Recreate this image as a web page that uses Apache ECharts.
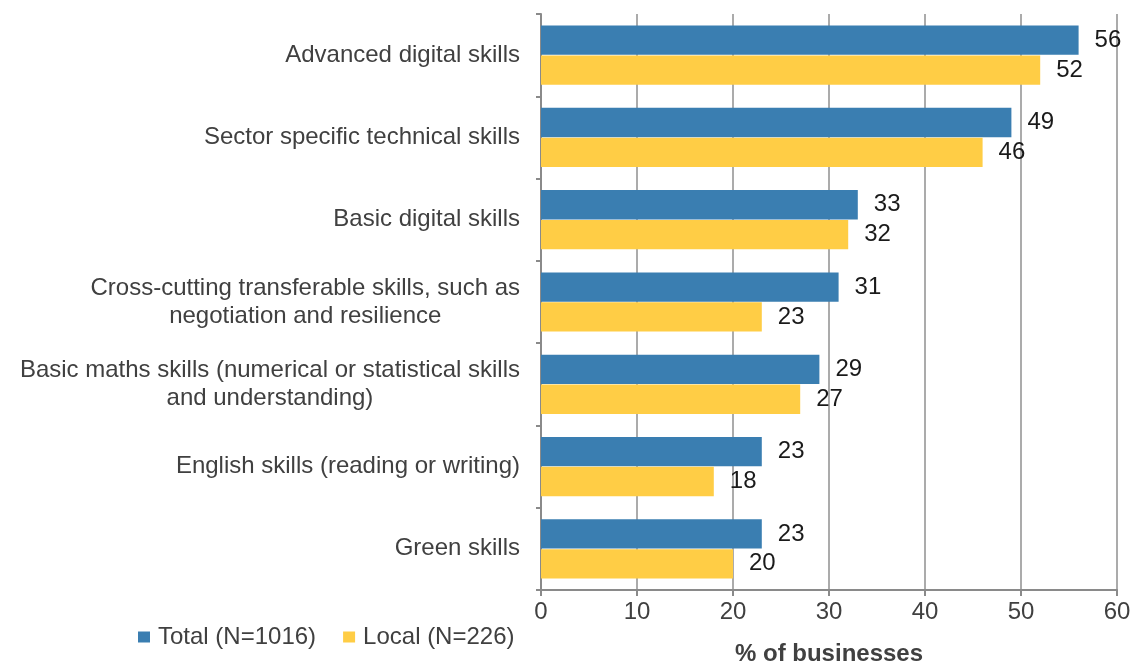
<!DOCTYPE html>
<html>
<head>
<meta charset="utf-8">
<script src="https://cdn.jsdelivr.net/npm/echarts@6/dist/echarts.min.js"></script>
<style>
html,body{margin:0;padding:0;background:#fff;}
#chart{width:1136px;height:663px;}
</style>
</head>
<body>
<div id="chart"></div>
<script>
const categories = [
  "Advanced digital skills",
  "Sector specific technical skills",
  "Basic digital skills",
  "Cross-cutting transferable skills, such as\nnegotiation and resilience",
  "Basic maths skills (numerical or statistical skills\nand understanding)",
  "English skills (reading or writing)",
  "Green skills"
];
const totalValues = [56, 49, 33, 31, 29, 23, 23];
const localValues = [52, 46, 32, 23, 27, 18, 20];
const seriesNames = ["Total (N=1016)", "Local (N=226)"];
const xTicks = [0, 10, 20, 30, 40, 50, 60];
const axisTitle = "% of businesses";

const FONT = "'Liberation Sans', Arial, sans-serif";
const chart = echarts.init(document.getElementById('chart'), null, {renderer: 'canvas'});

const labelStyle = {
  show: true,
  position: 'right',
  distance: 16,
  fontSize: 24,
  color: '#1a1a1a',
  fontFamily: FONT
};

chart.setOption({
  animation: false,
  backgroundColor: '#fff',
  grid: {left: 541, right: 19, top: 14, bottom: 73, containLabel: false, outerBoundsMode: 'none'},
  legend: {
    left: 138,
    top: 625,
    padding: 0,
    icon: 'rect',
    itemWidth: 12,
    itemHeight: 11,
    itemGap: 27,
    textStyle: {fontSize: 24, color: '#404040', fontFamily: FONT, padding: [0, 0, 0, 3]},
    data: seriesNames
  },
  xAxis: {
    type: 'value',
    min: xTicks[0],
    max: xTicks[xTicks.length - 1],
    interval: 10,
    name: axisTitle,
    nameLocation: 'middle',
    nameGap: 52,
    nameTextStyle: {fontSize: 24, fontWeight: 'bold', color: '#404040', fontFamily: FONT},
    axisLine: {show: true, lineStyle: {color: '#8a8a8a', width: 2}},
    axisTick: {show: true, length: 6, lineStyle: {color: '#8a8a8a', width: 2}},
    splitLine: {show: true, lineStyle: {color: '#8f8f8f', width: 1.5}},
    axisLabel: {fontSize: 24, color: '#404040', fontFamily: FONT, margin: 10}
  },
  yAxis: {
    type: 'category',
    inverse: true,
    data: categories,
    axisLine: {show: true, lineStyle: {color: '#8a8a8a', width: 2}},
    axisTick: {show: true, length: 5, lineStyle: {color: '#8a8a8a', width: 2}},
    axisLabel: {
      margin: 21,
      fontSize: 24,
      color: '#404040',
      fontFamily: FONT,
      lineHeight: 28,
      formatter: function (v) {
        return v.split('\n').map(function (s) { return '{c|' + s + '}'; }).join('\n');
      },
      rich: {
        c: {align: 'center', fontSize: 24, color: '#404040', fontFamily: FONT, lineHeight: 28}
      }
    }
  },
  series: [
    {
      name: seriesNames[0],
      type: 'bar',
      data: totalValues,
      barGap: '2%',
      barCategoryGap: '28%',
      itemStyle: {color: '#3A7EB1'},
      label: labelStyle
    },
    {
      name: seriesNames[1],
      type: 'bar',
      data: localValues,
      itemStyle: {color: '#FFCD45'},
      label: labelStyle
    }
  ]
});
</script>
</body>
</html>
